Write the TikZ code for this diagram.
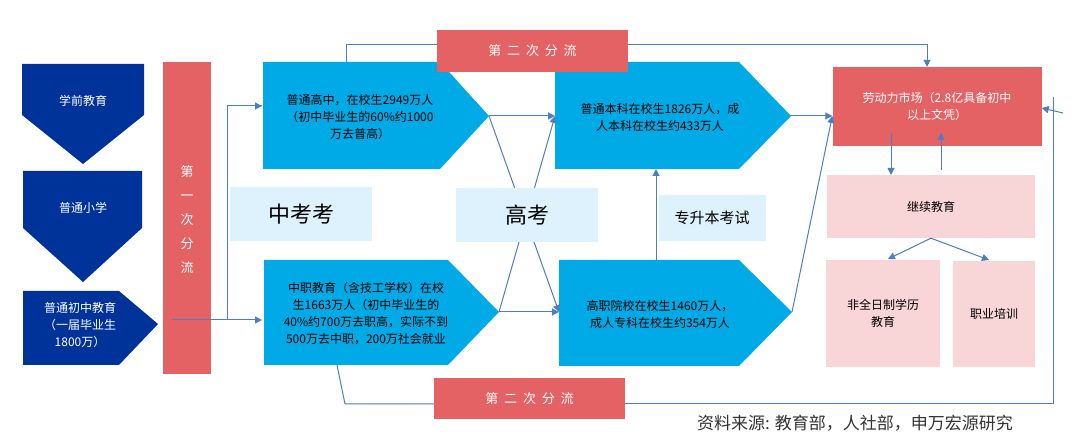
\documentclass[tikz,border=0pt]{standalone}
\usepackage{fontspec}
\usepackage{tikz}
\usetikzlibrary{arrows.meta}
\setmainfont{Noto Sans CJK SC}
\definecolor{navy}{RGB}{0,51,153}
\definecolor{sky}{RGB}{0,170,230}
\definecolor{brick}{RGB}{228,98,100}
\definecolor{pale}{RGB}{221,242,252}
\definecolor{blush}{RGB}{248,213,214}
\definecolor{wire}{RGB}{74,126,197}
\begin{document}
\begin{tikzpicture}[x=1pt,y=-1pt,
 txt/.style={align=center,font=\fontsize{12}{17}\selectfont,inner sep=0pt},
 wtxt/.style={txt,text=white},
 big/.style={align=center,font=\fontsize{22}{24}\selectfont},
 flow/.style={draw=wire,line width=1pt,-{Triangle[length=7pt,width=7pt]}},
 link/.style={draw=wire,line width=1pt}]
\useasboundingbox (0,0) rectangle (1080,435);
% left column
\fill[navy] (22,64) -- (144,64) -- (144,115) -- (83,164) -- (22,115) -- cycle;
\fill[navy] (23,171) -- (142,171) -- (142,228) -- (83,282) -- (23,228) -- cycle;
\fill[navy] (23,291) -- (119,291) -- (158,324) -- (119,365) -- (23,365) -- cycle;
\node[wtxt] (xq) at (83,101) {学前教育};
\node[wtxt] (xx) at (83,208) {普通小学};
\node[wtxt] (cz) at (80,325) {普通初中教育\\（一届毕业生\\1800万）};
\fill[brick] (163,62) rectangle (211,374);
\node[wtxt,text width=14pt,font=\fontsize{13}{24}\selectfont] (fl1) at (187,220) {第\\一\\次\\分\\流};
\coordinate (czout) at (172,320);
% blue pentagons
\fill[sky] (263,62) -- (440,62) -- (489,116) -- (440,169) -- (263,169) -- cycle;
\fill[sky] (264,260) -- (448,260) -- (499,312) -- (448,365) -- (264,365) -- cycle;
\fill[sky] (555,62) -- (739,62) -- (791,116) -- (739,169) -- (555,169) -- cycle;
\fill[sky] (559,260) -- (739,260) -- (792,312) -- (739,366) -- (559,366) -- cycle;
\coordinate (gzin) at (262,106);
\coordinate (gztip) at (489,116);
\coordinate (zzin) at (262,320);
\coordinate (zztip) at (499,312);
\coordinate (bkin) at (555,116);
\coordinate (bktip) at (791,116);
\coordinate (gvin) at (559,312);
\coordinate (gvtip) at (792,312);
% connectors
\draw[link] (czout) -- (227,320) |- (gzin);
\draw[flow] (227,106) -- (gzin);
\draw[flow] (czout) -- (zzin);
\draw[flow] (gztip) -- (bkin);
\draw[flow] (gztip) -- (gvin);
\draw[flow] (zztip) -- (bkin);
\draw[flow] (zztip) -- (gvin);
\draw[flow] (656,260) -- (656,169);
\node[txt] (gz) at (360,117) {普通高中，在校生2949万人\\（初中毕业生的60\%约1000\\万去普高）};
\node[txt] (zz) at (366,314) {中职教育（含技工学校）在校\\生1663万人（初中毕业生的\\40\%约700万去职高，实际不到\\500万去中职，200万社会就业};
\node[txt] (bk) at (660,117) {普通本科在校生1826万人，成\\人本科在校生约433万人};
\node[txt] (gv) at (660,314) {高职院校在校生1460万人，\\成人专科在校生约354万人};
% exam labels
\node[fill=pale,minimum width=142pt,minimum height=54pt,big] (zk) at (301,214) {中考考};
\node[fill=pale,minimum width=142pt,minimum height=54pt,big] (gk) at (527,215) {高考};
\node[fill=pale,minimum width=107pt,minimum height=46pt,font=\fontsize{15}{17}\selectfont] (zsb) at (712,218) {专升本考试};
% labour market side
\node[fill=brick,minimum width=209pt,minimum height=79pt,wtxt,inner sep=0pt] (ld) at (937,106.5) {劳动力市场（2.8亿具备初中\\以上文凭）};
\node[fill=blush,minimum width=208pt,minimum height=63pt,txt] (jx) at (931,206.5) {继续教育};
\node[fill=blush,minimum width=114pt,minimum height=107pt,txt] (fq) at (883,313.5) {非全日制学历\\教育};
\node[fill=blush,minimum width=82pt,minimum height=106pt,txt] (zy) at (994,314) {职业培训};
\draw[flow] (bktip) -- (ld.west |- bktip);
\draw[flow] (gvtip) -- (ld.west |- bktip);
\draw[flow] (891,133) -- (891,175);
\draw[flow] (941,170) -- (941,133);
\draw[flow] (jx.south) -- (888,259);
\draw[flow] (jx.south) -- (989,260);
% second split
\node[fill=brick,minimum width=191pt,minimum height=42pt,wtxt,font=\fontsize{13}{15}\selectfont] (fl2a) at (532.5,51) {第\ \ 二\ \ 次\ \ 分\ \ 流};
\node[fill=brick,minimum width=191pt,minimum height=41pt,wtxt,font=\fontsize{13}{15}\selectfont] (fl2b) at (529.5,398.5) {第\ \ 二\ \ 次\ \ 分\ \ 流};
\draw[link] (346,62) -- (346,45) -- (fl2a.west |- 0,45);
\draw[flow] (fl2a.east |- 0,45) -- (927,45) -- (ld.north -| 927,0);
\draw[link] (337,365) -- (345,404) -- (fl2b.west |- 0,404);
\draw[link] (fl2b.east |- 0,404) -- (1053,404) -- (1053,97);
\coordinate (rt) at (1063,113);
\draw[flow] (rt) -- (ld.east |- 0,108);
\node[font=\fontsize{17}{19}\selectfont,text=black!80,anchor=west,inner sep=0pt] (src) at (697,423) {资料来源: 教育部，人社部，申万宏源研究};
\end{tikzpicture}
\end{document}
